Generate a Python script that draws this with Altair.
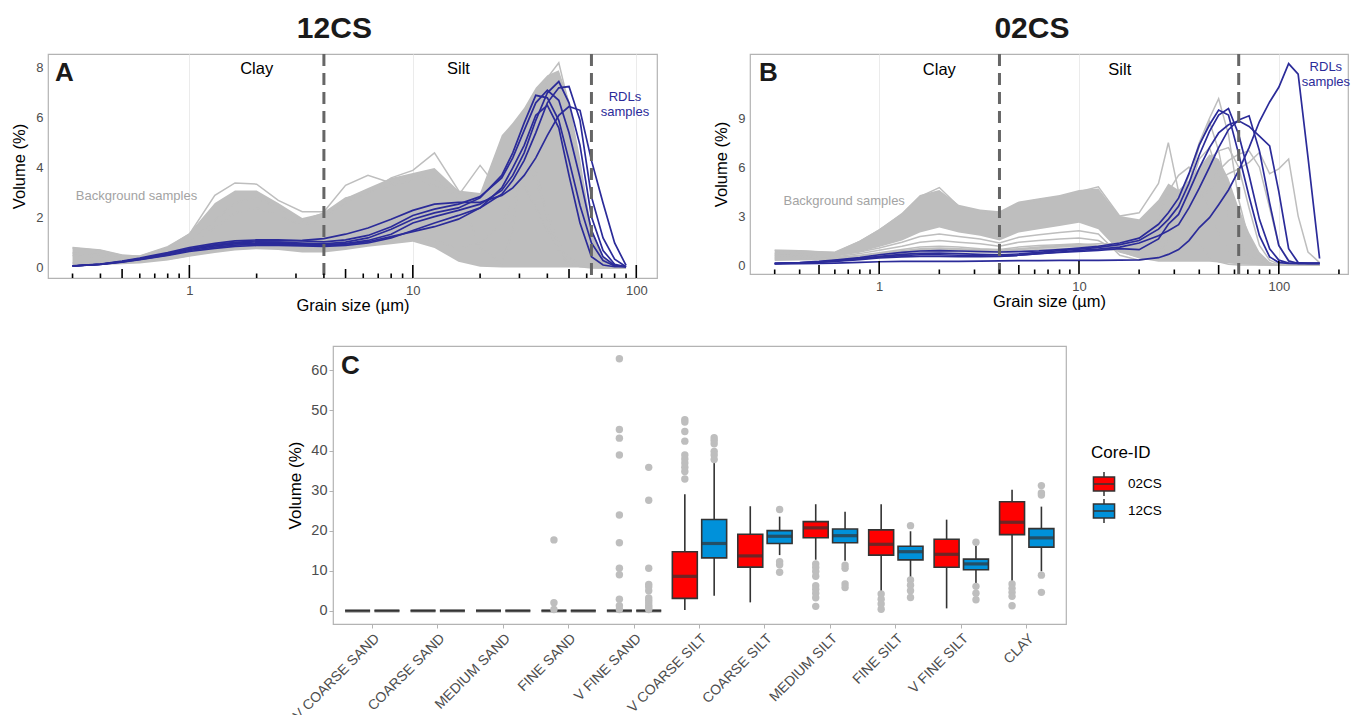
import altair as alt
import pandas as pd

FONT = "Liberation Sans"
GRAY = "#BEBEBE"
BLUE = "#2B2B99"
FRAME = "#B3B3B3"
DARK = "#333333"

# grain-size classes (µm)
GRAIN = [0.3, 0.4, 0.5, 0.6, 0.8, 1.0, 1.3, 1.6, 2.0, 2.5, 3.2, 4.0, 5.0, 6.3, 8.0, 10, 12.5, 16, 20, 25,
         28, 31.5, 35.5, 40, 45, 50, 56, 63, 71, 80, 90, 100, 112, 125, 140, 160]

# ---------------- panel A (12CS), 31 classes up to 90 µm ----------------
A_RDL1 = [0.08, 0.15, 0.25, 0.36, 0.56, 0.74, 0.88, 0.96, 0.98, 0.98, 0.95, 0.92, 0.97, 1.1, 1.35, 1.8, 2.05, 2.3, 2.55, 3.1, 3.7, 4.6, 5.9, 7.0, 7.45, 6.6, 4.9, 2.05, 0.7, 0.15, 0.05]
A_RDL2 = [0.08, 0.14, 0.23, 0.33, 0.5, 0.66, 0.78, 0.86, 0.9, 0.9, 0.88, 0.86, 0.9, 1.0, 1.2, 1.5, 1.8, 2.1, 2.4, 2.95, 3.5, 4.3, 5.4, 6.6, 7.2, 7.25, 5.9, 2.85, 1.2, 0.35, 0.05]
A_RDL3 = [0.09, 0.16, 0.28, 0.4, 0.62, 0.82, 0.98, 1.08, 1.12, 1.12, 1.08, 1.04, 1.12, 1.3, 1.65, 2.1, 2.35, 2.55, 2.85, 3.6, 4.4, 5.5, 6.6, 7.1, 6.7, 5.4, 3.6, 1.5, 0.45, 0.1, 0.05]
A_RDL4 = [0.08, 0.15, 0.26, 0.37, 0.58, 0.77, 0.92, 1.0, 1.04, 1.03, 0.99, 0.96, 1.03, 1.2, 1.55, 1.95, 2.2, 2.4, 2.8, 3.7, 4.6, 5.8, 6.9, 6.8, 5.9, 4.3, 2.5, 1.0, 0.3, 0.08, 0.05]
A_RDL5 = [0.08, 0.14, 0.24, 0.34, 0.52, 0.7, 0.83, 0.91, 0.95, 0.95, 0.92, 0.9, 0.95, 1.05, 1.25, 1.45, 1.65, 1.95, 2.4, 3.2, 4.0, 4.9, 6.1, 6.5, 5.6, 3.7, 1.8, 0.45, 0.12, 0.05, 0.05]
A_RDL6 = [0.08, 0.15, 0.26, 0.37, 0.58, 0.77, 0.92, 1.02, 1.08, 1.08, 1.1, 1.17, 1.35, 1.6, 1.95, 2.3, 2.55, 2.62, 2.62, 2.9, 3.2, 3.7, 4.4, 5.3, 6.1, 6.45, 6.3, 4.3, 2.6, 1.0, 0.1]

A_BG_HIGH = [0.85, 0.75, 0.55, 0.5, 0.85, 1.4, 2.6, 3.1, 3.1, 2.6, 2.0, 2.2, 2.8, 3.2, 3.6, 3.8, 4.0, 3.1, 3.0, 5.3, 5.8, 6.4, 7.2, 7.7, 7.9, 6.7, 4.4, 1.6, 0.45, 0.1, 0.02]
A_BG_LOW = [0.1, 0.12, 0.15, 0.18, 0.3, 0.45, 0.6, 0.7, 0.75, 0.72, 0.62, 0.62, 0.72, 0.85, 0.95, 1.05, 0.8, 0.25, 0.05, 0.02, 0.02, 0.02, 0.02, 0.02, 0.02, 0.02, 0.02, 0.02, 0.02, 0.02, 0.02]
A_BG1 = [0.8, 0.7, 0.5, 0.48, 0.85, 1.35, 2.9, 3.4, 3.35, 2.7, 2.25, 2.25, 3.3, 3.7, 3.4, 3.7, 3.6, 2.8, 2.4, 2.8, 3.6, 3.3, 2.4, 1.5, 0.8, 0.4, 0.15, 0.05, 0.02, 0.0, 0.0]
A_BG2 = [0.5, 0.45, 0.4, 0.4, 0.6, 0.95, 1.6, 2.2, 2.4, 2.1, 1.7, 2.0, 2.6, 3.0, 3.6, 3.9, 4.6, 3.1, 0.8, 0.2, 1.5, 5.2, 4.0, 2.0, 0.6, 0.2, 0.05, 0.0, 0.0, 0.0, 0.0]
A_BG3 = [0.2, 0.22, 0.25, 0.28, 0.35, 0.5, 0.7, 0.85, 0.9, 0.85, 0.75, 0.8, 0.9, 1.0, 1.1, 1.2, 1.1, 0.8, 1.0, 1.8, 2.6, 3.8, 5.8, 7.6, 8.2, 6.5, 3.8, 1.4, 0.35, 0.05, 0.0]
A_BG4 = [0.6, 0.55, 0.45, 0.45, 0.7, 1.1, 1.9, 2.6, 2.8, 2.4, 1.9, 2.2, 2.8, 3.0, 3.3, 3.5, 3.3, 2.9, 4.1, 3.0, 4.0, 4.5, 3.5, 2.2, 1.0, 0.4, 0.1, 0.02, 0.0, 0.0, 0.0]

# ---------------- panel B (02CS), 36 classes up to 160 µm ----------------
B_RDL1 = [0.1, 0.15, 0.22, 0.3, 0.45, 0.63, 0.78, 0.86, 0.88, 0.86, 0.83, 0.8, 0.82, 0.87, 0.95, 1.04, 1.15, 1.35, 1.65, 2.5, 3.2, 4.1, 5.6, 7.37, 8.6, 9.5, 9.2, 6.8, 4.2, 1.8, 0.5, 0.15, 0.1, 0.1, 0.1, 0.1]
B_RDL2 = [0.1, 0.14, 0.2, 0.27, 0.4, 0.53, 0.65, 0.72, 0.73, 0.7, 0.65, 0.63, 0.68, 0.78, 0.88, 0.98, 1.08, 1.25, 1.5, 2.2, 2.8, 3.6, 5.0, 6.75, 8.2, 9.2, 9.6, 8.0, 5.5, 2.8, 1.0, 0.3, 0.12, 0.1, 0.1, 0.1]
B_RDL3 = [0.09, 0.12, 0.17, 0.23, 0.33, 0.43, 0.5, 0.53, 0.53, 0.52, 0.51, 0.53, 0.6, 0.7, 0.8, 0.9, 0.98, 1.1, 1.35, 1.8, 2.1, 2.47, 3.5, 4.71, 6.0, 7.2, 8.3, 8.9, 9.15, 7.0, 3.8, 1.2, 0.25, 0.1, 0.1, 0.1]
B_RDL4 = [0.09, 0.13, 0.18, 0.25, 0.37, 0.48, 0.58, 0.63, 0.63, 0.6, 0.56, 0.55, 0.6, 0.7, 0.78, 0.83, 0.9, 1.0, 0.94, 1.6, 2.5, 3.1, 4.5, 5.94, 7.2, 8.1, 8.6, 8.84, 8.5, 7.9, 7.3, 4.5, 1.0, 0.15, 0.1, 0.1]
B_RDL5 = [0.08, 0.09, 0.1, 0.12, 0.16, 0.2, 0.22, 0.22, 0.22, 0.23, 0.24, 0.26, 0.27, 0.27, 0.28, 0.28, 0.28, 0.3, 0.32, 0.45, 0.65, 0.95, 1.5, 2.3, 2.9, 3.7, 4.6, 5.8, 7.2, 8.8, 10.0, 10.9, 12.35, 11.7, 6.6, 0.4]

B_BG_HIGH = [0.94, 0.92, 0.85, 0.8, 1.5, 2.2, 3.2, 4.3, 4.6, 3.7, 3.4, 3.3, 3.9, 4.1, 4.3, 4.6, 4.7, 3.0, 2.8, 4.0, 5.0, 4.6, 5.2, 6.0, 6.8, 6.5, 5.3, 3.5, 2.0, 0.8, 0.2, 0.02, 0.02, 0.02, 0.02, 0.02]
B_BG_LOW = [0.5, 0.5, 0.5, 0.5, 0.8, 1.1, 1.5, 2.0, 2.3, 2.0, 1.8, 1.5, 2.0, 2.2, 2.4, 2.6, 2.2, 0.8, 0.4, 0.2, 0.2, 0.2, 0.2, 0.2, 0.2, 0.15, 0.1, 0.05, 0.02, 0.02, 0.02, 0.02, 0.02, 0.02, 0.02, 0.02]
B_BG1 = [0.7, 0.65, 0.6, 0.58, 0.8, 1.05, 1.4, 1.75, 1.9, 1.75, 1.6, 1.35, 1.7, 1.85, 2.0, 2.1, 1.9, 0.6, 0.3, 0.5, 1.5, 2.5, 4.5, 6.5, 7.2, 5.5, 3.0, 1.2, 0.4, 0.1, 0.02, 0.0, 0.0, 0.0, 0.0, 0.0]
B_BG2 = [0.6, 0.55, 0.52, 0.5, 0.7, 0.9, 1.15, 1.4, 1.5, 1.4, 1.3, 1.15, 1.4, 1.5, 1.6, 1.65, 1.5, 0.8, 0.5, 0.8, 1.5, 3.0, 5.0, 7.3, 8.8, 7.0, 4.0, 1.8, 0.6, 0.15, 0.03, 0.0, 0.0, 0.0, 0.0, 0.0]
B_BG3 = [0.5, 0.47, 0.45, 0.44, 0.6, 0.75, 0.95, 1.1, 1.15, 1.1, 1.0, 0.95, 1.1, 1.2, 1.25, 1.3, 1.2, 0.9, 1.0, 1.5, 2.0, 2.5, 3.2, 4.0, 4.6, 5.2, 5.6, 5.9, 6.3, 6.9, 5.6, 5.9, 6.5, 3.0, 0.8, 0.15]
B_BG4 = [0.9, 0.88, 0.82, 0.78, 1.45, 2.15, 3.1, 4.2, 4.75, 3.6, 3.3, 3.2, 3.8, 4.0, 4.2, 4.5, 4.8, 3.0, 3.2, 5.0, 7.5, 4.5, 2.5, 1.2, 0.5, 0.2, 0.05, 0.0, 0.0, 0.0, 0.0, 0.0, 0.0, 0.0, 0.0, 0.0]
B_BG5 = [0.3, 0.32, 0.33, 0.35, 0.45, 0.6, 0.8, 0.95, 1.0, 0.95, 0.9, 0.85, 0.95, 1.05, 1.15, 1.25, 1.3, 1.3, 1.4, 2.0, 2.8, 3.8, 5.5, 7.5, 9.0, 10.2, 8.0, 4.0, 1.5, 0.4, 0.1, 0.0, 0.0, 0.0, 0.0, 0.0]
B_BG6 = [0.4, 0.4, 0.4, 0.4, 0.5, 0.62, 0.78, 0.9, 0.95, 0.92, 0.85, 0.8, 0.95, 1.05, 1.1, 1.15, 1.1, 1.0, 1.5, 3.0, 4.5, 5.5, 6.0, 5.0, 3.5, 2.0, 0.8, 0.3, 0.1, 0.02, 0.0, 0.0, 0.0, 0.0, 0.0, 0.0]
B_BG7 = [0.35, 0.35, 0.35, 0.36, 0.45, 0.55, 0.7, 0.82, 0.85, 0.82, 0.78, 0.75, 0.85, 0.95, 1.0, 1.05, 1.0, 0.9, 1.0, 1.4, 1.9, 2.5, 3.2, 4.2, 5.0, 5.8, 6.4, 6.8, 7.0, 6.0, 3.5, 1.2, 0.3, 0.05, 0.0, 0.0]
B_BG8 = [0.45, 0.44, 0.43, 0.42, 0.55, 0.7, 0.88, 1.0, 1.05, 1.0, 0.95, 0.9, 1.0, 1.1, 1.2, 1.25, 1.2, 1.1, 1.3, 2.0, 2.8, 3.6, 4.6, 5.5, 6.5, 7.0, 7.2, 6.0, 3.5, 1.2, 0.3, 0.05, 0.0, 0.0, 0.0, 0.0]

# log-tick positions and texture class boundaries
LOG_LONG = [1, 10, 100]
LOG_MID = [0.5, 5, 50]
LOG_SHORT = [0.3, 0.4, 0.6, 0.7, 0.8, 0.9, 2, 3, 4, 6, 7, 8, 9, 20, 30, 40, 60, 70, 80, 90, 200]
BOUNDS = [4, 63]

# ---------------- panel C boxplots ----------------
CATS = ["V COARSE SAND", "COARSE SAND", "MEDIUM SAND", "FINE SAND", "V FINE SAND", "V COARSE SILT",
        "COARSE SILT", "MEDIUM SILT", "FINE SILT", "V FINE SILT", "CLAY"]
CORES = ["02CS", "12CS"]
LO_02 = [0, 0, 0, 0, 0, 0.2, 2.1, 12.75, 4.8, 0.6, 7.1]
Q1_02 = [0, 0, 0, 0, 0, 3.1, 10.9, 18.25, 13.9, 10.85, 19.0]
MED_02 = [0, 0, 0, 0, 0, 8.6, 13.7, 20.7, 16.6, 14.1, 22.1]
Q3_02 = [0, 0, 0, 0, 0, 14.75, 19.1, 22.25, 20.2, 17.85, 27.2]
HI_02 = [0, 0, 0, 0, 0, 29.1, 26.1, 26.6, 26.6, 22.75, 30.2]
LO_12 = [0, 0, 0, 0, 0, 3.75, 13.9, 12.5, 8.1, 6.4, 9.85]
Q1_12 = [0, 0, 0, 0, 0, 13.2, 16.8, 17.0, 12.7, 10.25, 15.9]
MED_12 = [0, 0, 0, 0, 0, 16.8, 18.6, 18.75, 14.75, 11.7, 18.2]
Q3_12 = [0, 0, 0, 0, 0, 22.8, 20.0, 20.4, 16.1, 12.9, 20.5]
HI_12 = [0, 0, 0, 0, 0, 37.1, 23.5, 24.75, 19.85, 16.25, 26.0]
OUT_02 = {
    "FINE SAND": [17.7, 2.0, 0.3],
    "V FINE SAND": [62.9, 45.25, 43.1, 38.9, 23.9, 17.0, 10.6, 9.0, 2.9, 1.25, 0.3],
    "V COARSE SILT": [47.7, 47.1, 44.75, 42.35, 38.9, 37.9, 36.9, 35.85, 34.75, 32.9],
    "MEDIUM SILT": [11.7, 10.8, 9.8, 8.6, 6.25, 5.4, 4.4, 3.25, 1.1],
    "FINE SILT": [4.2, 2.9, 1.7, 0.4],
    "CLAY": [6.7, 5.6, 4.6, 3.6, 1.25],
}
OUT_12 = {
    "V FINE SAND": [35.8, 27.6, 10.6, 6.6, 6.0, 5.0, 3.2, 2.6, 2.0, 1.3, 0.8, 0.3],
    "V COARSE SILT": [43.2, 42.5, 41.7, 39.75, 38.9, 37.75],
    "COARSE SILT": [25.3, 12.25, 11.5, 9.6],
    "MEDIUM SILT": [11.4, 10.6, 6.7, 5.8],
    "FINE SILT": [21.25, 7.7, 6.4, 5.0, 3.3],
    "V FINE SILT": [17.1, 6.1, 4.4, 2.75],
    "CLAY": [31.25, 29.4, 28.9, 8.9, 4.6],
}


def long_df(curves):
    rows = []
    for name, vals in curves.items():
        for g, v in zip(GRAIN, vals):
            rows.append({"grain": g, "vol": v, "sample": name})
    return pd.DataFrame(rows)


def psd_panel(letter, title, hi, lo, bg, rdl, xdom, ydom, yvals, W, H, clay_y, rdl_pos, bg_pos, letter_x):
    n = len(hi)
    xs = alt.Scale(type="log", domain=xdom, nice=False)
    ys = alt.Scale(domain=ydom, nice=False, zero=False)
    xax = alt.Axis(values=LOG_LONG, grid=True, gridColor="#EBEBEB", gridWidth=1, ticks=False, domain=False,
                   format="~g", labelPadding=6, titlePadding=0)
    yax = alt.Axis(values=yvals, grid=False, ticks=False, domain=False, labelPadding=5, titlePadding=8)
    X = lambda f: alt.X(f, scale=xs, axis=xax, title="Grain size (µm)")
    Y = lambda f: alt.Y(f, scale=ys, axis=yax, title="Volume (%)")

    env = pd.DataFrame({"grain": GRAIN[:n], "hi": hi, "lo": lo})
    area = alt.Chart(env).mark_area(color=GRAY, opacity=1).encode(x=X("grain:Q"), y=Y("hi:Q"), y2="lo:Q")
    bg_lines = alt.Chart(long_df(bg)).mark_line(color=GRAY, strokeWidth=1.5).encode(
        x=X("grain:Q"), y=Y("vol:Q"), detail="sample:N")
    rdl_lines = alt.Chart(long_df(rdl)).mark_line(color=BLUE, strokeWidth=1.7).encode(
        x=X("grain:Q"), y=Y("vol:Q"), detail="sample:N")
    dash = alt.Chart(pd.DataFrame({"b": BOUNDS})).mark_rule(
        color="#666666", strokeWidth=3, strokeDash=[12, 7]).encode(x=X("b:Q"))

    layers = [area, bg_lines, rdl_lines, dash]
    for vals, length in ((LOG_LONG, 13), (LOG_MID, 9), (LOG_SHORT, 4.5)):
        v = [t for t in vals if xdom[0] <= t <= xdom[1]]
        layers.append(alt.Chart(pd.DataFrame({"t": v})).mark_rule(color="black", strokeWidth=1.6).encode(
            x=X("t:Q"), y=alt.value(H), y2=alt.value(H - length)))

    zones = pd.DataFrame({"g": [2, 16], "v": [clay_y, clay_y], "t": ["Clay", "Silt"]})
    layers.append(alt.Chart(zones).mark_text(fontSize=16.5, color="black", font=FONT).encode(
        x=X("g:Q"), y=Y("v:Q"), text="t:N"))
    rdl_txt = pd.DataFrame({"g": [rdl_pos[0], rdl_pos[0]], "v": [rdl_pos[1], rdl_pos[2]],
                            "t": ["RDLs", "samples"]})
    layers.append(alt.Chart(rdl_txt).mark_text(fontSize=13, color=BLUE, font=FONT, baseline="middle").encode(
        x=X("g:Q"), y=Y("v:Q"), text="t:N"))
    bg_txt = pd.DataFrame({"g": [bg_pos[0]], "v": [bg_pos[1]], "t": ["Background samples"]})
    layers.append(alt.Chart(bg_txt).mark_text(fontSize=13, color="#A3A3A3", font=FONT).encode(
        x=X("g:Q"), y=Y("v:Q"), text="t:N"))
    layers.append(alt.Chart(pd.DataFrame({"t": [letter]})).mark_text(
        fontSize=26, fontWeight="bold", color="#1A1A1A", font=FONT, align="left", baseline="middle").encode(
        x=alt.value(letter_x), y=alt.value(19), text="t:N"))

    return alt.layer(*layers).properties(
        width=W, height=H,
        title=alt.TitleParams(title, fontSize=30, fontWeight="bold", font=FONT, color="#1A1A1A",
                              anchor="middle", frame="bounds", offset=9))


panelA = psd_panel("A", "12CS", A_BG_HIGH, A_BG_LOW,
                   {"g1": A_BG1, "g2": A_BG2, "g3": A_BG3, "g4": A_BG4},
                   {"r1": A_RDL1, "r2": A_RDL2, "r3": A_RDL3, "r4": A_RDL4, "r5": A_RDL5, "r6": A_RDL6},
                   [0.233, 123.8], [-0.4, 8.55], [0, 2, 4, 6, 8], 609, 224, 7.95, (89, 6.82, 6.24),
                   (0.58, 2.88), 7)
panelB = psd_panel("B", "02CS", B_BG_HIGH, B_BG_LOW,
                   {"g1": B_BG1, "g2": B_BG2, "g3": B_BG3, "g4": B_BG4, "g5": B_BG5, "g6": B_BG6,
                    "g7": B_BG7, "g8": B_BG8},
                   {"r1": B_RDL1, "r2": B_RDL2, "r3": B_RDL3, "r4": B_RDL4, "r5": B_RDL5},
                   [0.2257, 222], [-0.55, 12.94], [0, 3, 6, 9], 598, 220, 11.96, (172, 12.16, 11.2),
                   (0.668, 3.94), 9)

# ---------------- boxplot panel ----------------
box = pd.DataFrame({
    "cat": CATS * 2,
    "core": ["02CS"] * len(CATS) + ["12CS"] * len(CATS),
    "lo": LO_02 + LO_12, "q1": Q1_02 + Q1_12, "med": MED_02 + MED_12,
    "q3": Q3_02 + Q3_12, "hi": HI_02 + HI_12,
})
out_rows = []
for core, d in (("02CS", OUT_02), ("12CS", OUT_12)):
    for c, vals in d.items():
        for v in vals:
            out_rows.append({"cat": c, "core": core, "v": v})
outs = pd.DataFrame(out_rows)

xC = alt.X("cat:N", sort=CATS, title=None,
           scale=alt.Scale(domain=CATS, paddingInner=0, paddingOuter=0.1),
           axis=alt.Axis(labelAngle=315, labelAlign="right", labelBaseline="top", labelFontSize=14,
                         ticks=True, tickSize=4, tickColor=FRAME, domain=False, labelPadding=3))
xoC = alt.XOffset("core:N", sort=CORES,
                  scale=alt.Scale(domain=CORES, paddingInner=0.15, paddingOuter=0.19))
ysC = alt.Scale(domain=[-3.3, 66.1], nice=False, zero=False)
yaxC = alt.Axis(values=[0, 10, 20, 30, 40, 50, 60], grid=False, ticks=True, tickSize=4, tickColor=FRAME,
                domain=False, labelFontSize=14.5, titleFontSize=17, labelPadding=2, titlePadding=6)
YC = lambda f: alt.Y(f, scale=ysC, axis=yaxC, title="Volume (%)")

BOX_PATH = "M-0.88,-0.58H0.88V0.58H-0.88Z M-0.88,0H0.88 M0,-0.58V-1 M0,0.58V1"

whisk = alt.Chart(box).mark_rule(color=DARK, strokeWidth=1.6).encode(x=xC, xOffset=xoC, y=YC("lo:Q"), y2="hi:Q")
bars = alt.Chart(box).mark_bar(stroke=DARK, strokeWidth=1.6).encode(
    x=xC, xOffset=xoC, y=YC("q1:Q"), y2="q3:Q",
    color=alt.Color("core:N", sort=CORES,
                    scale=alt.Scale(domain=CORES, range=["#FF0000", "#0091DA"]),
                    legend=alt.Legend(title="Core-ID", orient="none", legendX=1043, legendY=391,
                                      symbolType=BOX_PATH, symbolSize=576, symbolStrokeColor=DARK,
                                      symbolStrokeWidth=1.5, titleFontSize=17, titleFontWeight="normal",
                                      titleColor="black", labelFontSize=13.5, labelColor="black",
                                      titlePadding=10, rowPadding=3, clipHeight=24, labelOffset=11)))
med = alt.Chart(box).mark_tick(color=DARK, thickness=3.2, size=25).encode(x=xC, xOffset=xoC, y=YC("med:Q"))
pts = alt.Chart(outs).mark_circle(size=55, color=GRAY, opacity=1).encode(x=xC, xOffset=xoC, y=YC("v:Q"))
letterC = alt.Chart(pd.DataFrame({"t": ["C"]})).mark_text(
    fontSize=26, fontWeight="bold", color="#1A1A1A", font=FONT, align="left", baseline="middle").encode(
    x=alt.value(8), y=alt.value(20), text="t:N")

panelC = alt.layer(whisk, bars, med, pts, letterC).properties(width=733, height=278)

spacer = alt.Chart(pd.DataFrame({"z": [0]})).mark_point(opacity=0).encode(
    x=alt.X("z:Q", axis=None), y=alt.Y("z:Q", axis=None)).properties(
    width=215, height=10, view=alt.ViewBackground(stroke="transparent"))

top = alt.hconcat(panelA, panelB, spacing=55)
bottom = alt.hconcat(spacer, panelC, spacing=22)

chart = alt.vconcat(top, bottom, spacing=30).properties(
    padding={"left": 3, "top": 4, "right": 0, "bottom": 0}
).configure(font=FONT).configure_view(stroke=FRAME, strokeWidth=1.2).configure_axis(
    labelFont=FONT, titleFont=FONT, labelColor="#4D4D4D", titleColor="black", labelFontSize=13,
    titleFontSize=16.5, titleFontWeight="normal"
).configure_legend(labelFont=FONT, titleFont=FONT)

chart.save("out.html", embed_options={"renderer": "svg", "actions": False})
